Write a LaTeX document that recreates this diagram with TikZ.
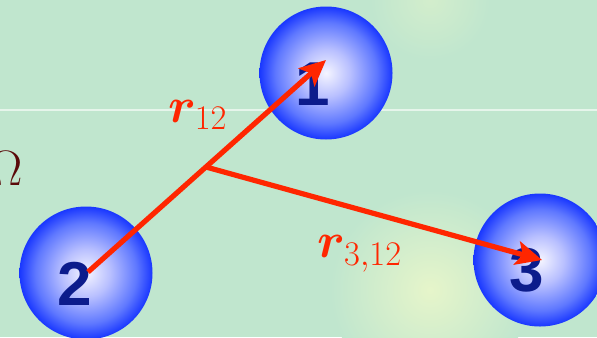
\documentclass[tikz,border=0pt]{standalone}
\usepackage{fontspec}
\usepackage{bm}
\newfontfamily\numfont{Liberation Sans}
\usetikzlibrary{arrows.meta}
\definecolor{bgc}{RGB}{192,230,206}
\definecolor{yelc}{RGB}{230,245,202}
\definecolor{numc}{RGB}{12,28,140}
\definecolor{arrc}{RGB}{255,38,0}
\definecolor{omc}{RGB}{90,10,10}
\pgfdeclareradialshading{ball}{\pgfpoint{0bp}{0bp}}{%
  color(0bp)=(white!96!blue);
  color(9bp)=(rgb,255:red,185;green,192;blue,255);
  color(19bp)=(rgb,255:red,95;green,120;blue,255);
  color(25bp)=(rgb,255:red,25;green,55;blue,255);
  color(50bp)=(rgb,255:red,25;green,55;blue,255)}
\tikzset{
  sphere/.style={circle, minimum size=66.5pt, inner sep=0pt, shading=ball},
  numlab/.style={font=\numfont\bfseries\fontsize{31}{31}\selectfont, text=numc},
  vec/.style={draw=arrc, line width=2.6pt, -{Stealth[length=13pt,width=12pt,inset=3pt]}},
  veclab/.style={text=arrc, font=\fontsize{24}{24}\selectfont}
}
\begin{document}
\begin{tikzpicture}[x=0.5pt,y=-0.5pt]
\useasboundingbox (0,0) rectangle (597,337);
\clip (0,0) rectangle (597,337);
\fill[bgc] (0,0) rectangle (597,337);
\shade[inner color=yelc, outer color=bgc] (430,290) circle (100);
\shade[inner color=yelc!50!bgc, outer color=bgc] (430,0) circle (60);
\draw[white!60!bgc, line width=0.6pt] (0,110) -- (597,110);
% Omega
\node[text=omc, font=\fontsize{33}{33}\selectfont, anchor=base] (om) at (6,185) {$\Omega$};
% spheres
\node[sphere] (s1) at (326,73) {};
\node[sphere] (s2) at (86,273) {};
\node[sphere] (s3) at (540,260) {};
\node[numlab] (n1) at (313,84) {1};
\node[numlab] (n2) at (75,284) {2};
\node[numlab] (n3) at (527,270) {3};
% vectors
\coordinate (p2) at (88,272);
\coordinate (t1) at (326,60);
\coordinate (m) at (206,167);
\coordinate (t3) at (542,260);
\draw[vec] (p2) -- (t1);
\draw[vec] (m) -- (t3);
\node[veclab] (l1) at (198,115) {$\bm{r}_{12}$};
\node[veclab] (l2) at (360,254) {$\bm{r}_{3,12}$};
\end{tikzpicture}
\end{document}
